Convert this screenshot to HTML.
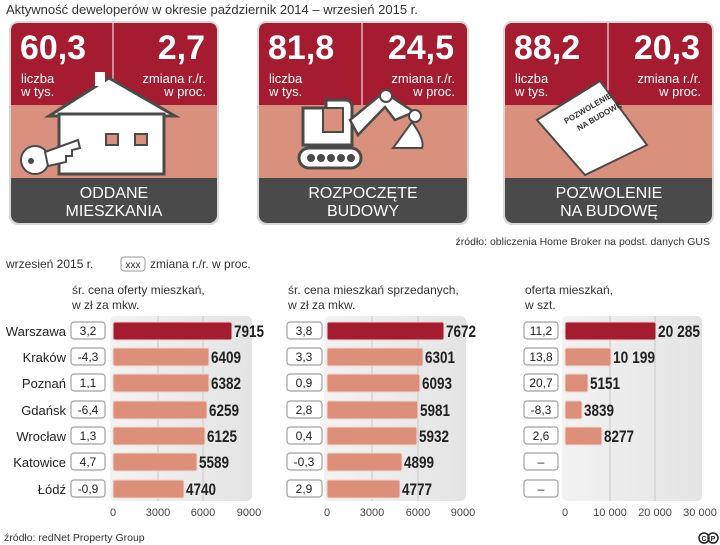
<!DOCTYPE html>
<html><head><meta charset="utf-8"><style>
html,body{margin:0;padding:0;background:#fff;}
svg{display:block;font-family:"Liberation Sans",sans-serif;}
.num{font-family:"Liberation Sans Narrow","Liberation Sans",sans-serif;font-weight:bold;}
</style></head><body>
<svg width="720" height="545" viewBox="0 0 720 545" xmlns="http://www.w3.org/2000/svg">
<defs>
<linearGradient id="pg" x1="0" x2="1"><stop offset="0" stop-color="#f2f2f2"/><stop offset="1" stop-color="#e4e4e4"/></linearGradient>
</defs>
<text x="6" y="14" font-size="13" fill="#333">Aktywność deweloperów w okresie październik 2014 – wrzesień 2015 r.</text>

<!-- Panel 1 -->
<g>
<rect x="9" y="21" width="210" height="204" rx="9" fill="#d8d8d8"/>
<rect x="11" y="23" width="206" height="200" rx="8" fill="#4a4a4a"/>
<path d="M19,23 H209 Q217,23 217,31 V105 H11 V31 Q11,23 19,23Z" fill="#a51c30"/>
<rect x="11" y="105" width="206" height="73" fill="#d9917d"/>
<line x1="113" y1="23" x2="113" y2="105" stroke="#fff" stroke-width="1"/>
<text x="20" y="59" class="num" font-size="34" fill="#fff" textLength="66" lengthAdjust="spacingAndGlyphs">60,3</text>
<text x="205" y="59" class="num" font-size="34" fill="#fff" text-anchor="end">2,7</text>
<text x="21" y="83" font-size="13" fill="#fff">liczba</text><text x="21" y="96" font-size="13" fill="#fff">w tys.</text>
<text x="206" y="83" font-size="13" fill="#fff" text-anchor="end">zmiana r./r.</text><text x="206" y="96" font-size="13" fill="#fff" text-anchor="end">w proc.</text>
<path d="M49,116 L109,78 L175,116Z" fill="#fff" stroke="#4a4a4a" stroke-width="3"/>
<rect x="95" y="72" width="10" height="14" fill="#fff"/>
<rect x="59" y="114" width="105" height="60" fill="#fff" stroke="#4a4a4a" stroke-width="3"/>
<rect x="106" y="134" width="12" height="11" fill="#d9917d" stroke="#4a4a4a" stroke-width="2"/>
<rect x="135" y="134" width="12" height="11" fill="#d9917d" stroke="#4a4a4a" stroke-width="2"/>
<circle cx="35" cy="160" r="14" fill="#fff" stroke="#4a4a4a" stroke-width="2"/>
<path d="M45,152 L78,140 L80,148 L72,150 L72,156 L66,156 L66,162 L48,166Z" fill="#fff" stroke="#4a4a4a" stroke-width="2"/>
<circle cx="31" cy="161" r="3" fill="#4a4a4a"/>
<text x="114" y="198" font-size="16" fill="#fff" text-anchor="middle">ODDANE</text>
<text x="114" y="216" font-size="16" fill="#fff" text-anchor="middle">MIESZKANIA</text>
</g>

<!-- Panel 2 -->
<g>
<rect x="257" y="21" width="212" height="204" rx="9" fill="#d8d8d8"/>
<rect x="259" y="23" width="208" height="200" rx="8" fill="#4a4a4a"/>
<path d="M267,23 H459 Q467,23 467,31 V105 H259 V31 Q259,23 267,23Z" fill="#a51c30"/>
<rect x="259" y="105" width="208" height="73" fill="#d9917d"/>
<line x1="362" y1="23" x2="362" y2="105" stroke="#fff" stroke-width="1"/>
<text x="268" y="59" class="num" font-size="34" fill="#fff">81,8</text>
<text x="454" y="59" class="num" font-size="34" fill="#fff" text-anchor="end">24,5</text>
<text x="269" y="83" font-size="13" fill="#fff">liczba</text><text x="269" y="96" font-size="13" fill="#fff">w tys.</text>
<text x="455" y="83" font-size="13" fill="#fff" text-anchor="end">zmiana r./r.</text><text x="455" y="96" font-size="13" fill="#fff" text-anchor="end">w proc.</text>
<path d="M303,108 H326 V100 H345 Q352,100 352,107 V145 H303Z" fill="#fff" stroke="#4a4a4a" stroke-width="3"/>
<rect x="323" y="108" width="20" height="24" fill="#d9917d" stroke="#4a4a4a" stroke-width="2"/>
<path d="M350,120 L384,92 L414,112 L395,120 L385,107 L358,135Z" fill="#fff" stroke="#4a4a4a" stroke-width="2.5"/>
<circle cx="386" cy="96" r="6" fill="#fff" stroke="#4a4a4a" stroke-width="2"/><circle cx="415" cy="116" r="6" fill="#fff" stroke="#4a4a4a" stroke-width="2"/>
<path d="M412,122 Q425,140 422,148 H393Z" fill="#fff" stroke="#4a4a4a" stroke-width="2"/>
<rect x="299" y="148" width="62" height="20" rx="10" fill="#fff" stroke="#4a4a4a" stroke-width="3"/>
<g fill="#4a4a4a"><circle cx="311" cy="158" r="4"/><circle cx="321" cy="158" r="4"/><circle cx="331" cy="158" r="4"/><circle cx="341" cy="158" r="4"/><circle cx="351" cy="158" r="4"/></g>
<text x="363" y="198" font-size="16" fill="#fff" text-anchor="middle">ROZPOCZĘTE</text>
<text x="363" y="216" font-size="16" fill="#fff" text-anchor="middle">BUDOWY</text>
</g>

<!-- Panel 3 -->
<g>
<rect x="503" y="21" width="211" height="204" rx="9" fill="#d8d8d8"/>
<rect x="505" y="23" width="207" height="200" rx="8" fill="#4a4a4a"/>
<path d="M513,23 H704 Q712,23 712,31 V105 H505 V31 Q505,23 513,23Z" fill="#a51c30"/>
<rect x="505" y="105" width="207" height="73" fill="#d9917d"/>
<line x1="608" y1="23" x2="608" y2="105" stroke="#fff" stroke-width="1"/>
<text x="514" y="59" class="num" font-size="34" fill="#fff">88,2</text>
<text x="700" y="59" class="num" font-size="34" fill="#fff" text-anchor="end">20,3</text>
<text x="515" y="83" font-size="13" fill="#fff">liczba</text><text x="515" y="96" font-size="13" fill="#fff">w tys.</text>
<text x="701" y="83" font-size="13" fill="#fff" text-anchor="end">zmiana r./r.</text><text x="701" y="96" font-size="13" fill="#fff" text-anchor="end">w proc.</text>
<path d="M537,120 L600,81 L647,145 L585,175Z" fill="#fff" stroke="#4a4a4a" stroke-width="2"/>
<text x="0" y="0" font-size="8" font-weight="bold" fill="#333" transform="translate(566,124) rotate(-30)">POZWOLENIE</text>
<text x="0" y="0" font-size="8" font-weight="bold" fill="#333" transform="translate(579,131) rotate(-30)">NA BUDOWĘ</text>
<text x="609" y="198" font-size="16" fill="#fff" text-anchor="middle">POZWOLENIE</text>
<text x="609" y="216" font-size="16" fill="#fff" text-anchor="middle">NA BUDOWĘ</text>
</g>

<text x="710" y="245" font-size="10.5" fill="#333" text-anchor="end">źródło: obliczenia Home Broker na podst. danych GUS</text>

<text x="6" y="268" font-size="12" fill="#333">wrzesień 2015 r.</text>
<rect x="121" y="257" width="24" height="14" rx="3" fill="#fff" stroke="#999"/>
<text x="133" y="268" font-size="10" fill="#333" text-anchor="middle">xxx</text>
<text x="150" y="268" font-size="12" fill="#333">zmiana r./r. w proc.</text>

<text x="72" y="294" font-size="12" fill="#333">śr. cena oferty mieszkań,</text>
<text x="72" y="309" font-size="12" fill="#333">w zł za mkw.</text>
<text x="288" y="294" font-size="12" fill="#333">śr. cena mieszkań sprzedanych,</text>
<text x="288" y="309" font-size="12" fill="#333">w zł za mkw.</text>
<text x="525" y="294" font-size="12" fill="#333">oferta mieszkań,</text>
<text x="525" y="309" font-size="12" fill="#333">w szt.</text>

<!-- plot backgrounds -->
<rect x="110" y="316" width="142" height="185" rx="5" fill="url(#pg)"/>
<rect x="324" y="316" width="142" height="185" rx="5" fill="url(#pg)"/>
<rect x="562" y="316" width="140" height="185" rx="5" fill="url(#pg)"/>
<g stroke="#c8c8c8" stroke-width="1">
<line x1="158" y1="316" x2="158" y2="501"/><line x1="203" y1="316" x2="203" y2="501"/>
<line x1="372" y1="316" x2="372" y2="501"/><line x1="418" y1="316" x2="418" y2="501"/>
<line x1="610" y1="316" x2="610" y2="501"/><line x1="655" y1="316" x2="655" y2="501"/>
</g>

<g font-size="11" fill="#444" text-anchor="middle">
<text x="113" y="516">0</text><text x="158" y="516">3000</text><text x="203" y="516">6000</text><text x="249" y="516">9000</text>
<text x="327" y="516">0</text><text x="372" y="516">3000</text><text x="418" y="516">6000</text><text x="463" y="516">9000</text>
<text x="565" y="516">0</text><text x="610" y="516">10 000</text><text x="655" y="516">20 000</text><text x="700" y="516">30 000</text>
</g>

<g font-size="13">
<g fill="#222" text-anchor="end" font-size="13">
<text x="66" y="336">Warszawa</text><text x="66" y="362">Kraków</text><text x="66" y="388">Poznań</text><text x="66" y="415">Gdańsk</text><text x="66" y="441">Wrocław</text><text x="66" y="467">Katowice</text><text x="66" y="494">Łódź</text>
</g>
<g fill="#fff" stroke="#a0a0a0" stroke-width="1.2">
<rect x="71" y="322" width="34" height="17" rx="3"/><rect x="71" y="348" width="34" height="17" rx="3"/><rect x="71" y="374" width="34" height="17" rx="3"/><rect x="71" y="401" width="34" height="17" rx="3"/><rect x="71" y="427" width="34" height="17" rx="3"/><rect x="71" y="453" width="34" height="17" rx="3"/><rect x="71" y="480" width="34" height="17" rx="3"/>
<rect x="287" y="322" width="35" height="17" rx="3"/><rect x="287" y="348" width="35" height="17" rx="3"/><rect x="287" y="374" width="35" height="17" rx="3"/><rect x="287" y="401" width="35" height="17" rx="3"/><rect x="287" y="427" width="35" height="17" rx="3"/><rect x="287" y="453" width="35" height="17" rx="3"/><rect x="287" y="480" width="35" height="17" rx="3"/>
<rect x="524" y="322" width="34" height="17" rx="3"/><rect x="524" y="348" width="34" height="17" rx="3"/><rect x="524" y="374" width="34" height="17" rx="3"/><rect x="524" y="401" width="34" height="17" rx="3"/><rect x="524" y="427" width="34" height="17" rx="3"/><rect x="524" y="453" width="34" height="17" rx="3"/><rect x="524" y="480" width="34" height="17" rx="3"/>
</g>
<g fill="#222" text-anchor="middle" font-size="12">
<text x="88" y="335">3,2</text><text x="88" y="361">-4,3</text><text x="88" y="387">1,1</text><text x="88" y="414">-6,4</text><text x="88" y="440">1,3</text><text x="88" y="466">4,7</text><text x="88" y="493">-0,9</text>
<text x="304" y="335">3,8</text><text x="304" y="361">3,3</text><text x="304" y="387">0,9</text><text x="304" y="414">2,8</text><text x="304" y="440">0,4</text><text x="304" y="466">-0,3</text><text x="304" y="493">2,9</text>
<text x="541" y="335">11,2</text><text x="541" y="361">13,8</text><text x="541" y="387">20,7</text><text x="541" y="414">-8,3</text><text x="541" y="440">2,6</text><text x="541" y="466">–</text><text x="541" y="493">–</text>
</g>
<g stroke="#f0d8d0" stroke-width="1">
<rect x="113" y="322" width="119" height="18" rx="2" fill="#a51c30"/>
<rect x="113" y="348" width="96" height="18" rx="2" fill="#dd8f79"/>
<rect x="113" y="374" width="96" height="18" rx="2" fill="#dd8f79"/>
<rect x="113" y="401" width="94" height="18" rx="2" fill="#dd8f79"/>
<rect x="113" y="427" width="92" height="18" rx="2" fill="#dd8f79"/>
<rect x="113" y="453" width="84" height="18" rx="2" fill="#dd8f79"/>
<rect x="113" y="480" width="71" height="18" rx="2" fill="#dd8f79"/>
<rect x="327" y="322" width="117" height="18" rx="2" fill="#a51c30"/>
<rect x="327" y="348" width="96" height="18" rx="2" fill="#dd8f79"/>
<rect x="327" y="374" width="93" height="18" rx="2" fill="#dd8f79"/>
<rect x="327" y="401" width="91" height="18" rx="2" fill="#dd8f79"/>
<rect x="327" y="427" width="90" height="18" rx="2" fill="#dd8f79"/>
<rect x="327" y="453" width="75" height="18" rx="2" fill="#dd8f79"/>
<rect x="327" y="480" width="73" height="18" rx="2" fill="#dd8f79"/>
<rect x="565" y="322" width="91" height="18" rx="2" fill="#a51c30"/>
<rect x="565" y="348" width="46" height="18" rx="2" fill="#dd8f79"/>
<rect x="565" y="374" width="23" height="18" rx="2" fill="#dd8f79"/>
<rect x="565" y="401" width="17" height="18" rx="2" fill="#dd8f79"/>
<rect x="565" y="427" width="37" height="18" rx="2" fill="#dd8f79"/>
</g>
<g class="num" fill="#222" font-size="17" lengthAdjust="spacingAndGlyphs">
<text x="234" y="337" textLength="30" lengthAdjust="spacingAndGlyphs">7915</text><text x="211" y="363" textLength="30" lengthAdjust="spacingAndGlyphs">6409</text><text x="211" y="389" textLength="30" lengthAdjust="spacingAndGlyphs">6382</text><text x="209" y="416" textLength="30" lengthAdjust="spacingAndGlyphs">6259</text><text x="207" y="442" textLength="30" lengthAdjust="spacingAndGlyphs">6125</text><text x="199" y="468" textLength="30" lengthAdjust="spacingAndGlyphs">5589</text><text x="186" y="495" textLength="30" lengthAdjust="spacingAndGlyphs">4740</text>
<text x="446" y="337" textLength="30" lengthAdjust="spacingAndGlyphs">7672</text><text x="425" y="363" textLength="30" lengthAdjust="spacingAndGlyphs">6301</text><text x="422" y="389" textLength="30" lengthAdjust="spacingAndGlyphs">6093</text><text x="420" y="416" textLength="30" lengthAdjust="spacingAndGlyphs">5981</text><text x="419" y="442" textLength="30" lengthAdjust="spacingAndGlyphs">5932</text><text x="404" y="468" textLength="30" lengthAdjust="spacingAndGlyphs">4899</text><text x="402" y="495" textLength="30" lengthAdjust="spacingAndGlyphs">4777</text>
<text x="658" y="337" textLength="42" lengthAdjust="spacingAndGlyphs">20 285</text><text x="613" y="363" textLength="42" lengthAdjust="spacingAndGlyphs">10 199</text><text x="590" y="389" textLength="30" lengthAdjust="spacingAndGlyphs">5151</text><text x="584" y="416" textLength="30" lengthAdjust="spacingAndGlyphs">3839</text><text x="604" y="442" textLength="30" lengthAdjust="spacingAndGlyphs">8277</text>
</g>
</g>

<text x="4" y="541" font-size="10.5" fill="#333">źródło: redNet Property Group</text>
<g stroke="#222" stroke-width="1.5" fill="none"><circle cx="704" cy="538" r="5"/><circle cx="713" cy="538" r="5"/></g>
<text x="704" y="541" font-size="7" font-weight="bold" text-anchor="middle" fill="#222">C</text>
<text x="713" y="541" font-size="7" font-weight="bold" text-anchor="middle" fill="#222">P</text>
</svg>
</body></html>
